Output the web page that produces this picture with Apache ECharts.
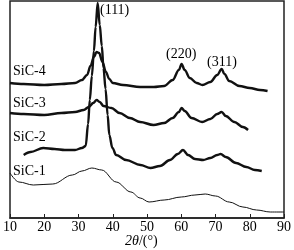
<!DOCTYPE html>
<html><head><meta charset="utf-8">
<script src="https://cdn.jsdelivr.net/npm/echarts@6/dist/echarts.min.js"></script>
<style>html,body{margin:0;padding:0;background:#fff}#c{width:294px;height:250px}</style>
</head><body><div id="c"></div>
<script>
// 2θ (degrees) and relative intensity (arbitrary units, offset stacked)
var xTicks = [10, 20, 30, 40, 50, 60, 70, 80, 90];
var seriesNames = ['SiC-1', 'SiC-2', 'SiC-3', 'SiC-4'];
var peakLabels = ['(111)', '(220)', '(311)'];

var sic4X = [10, 14, 20, 25, 29, 31, 32.5, 33.5, 34.5, 35.3, 36, 37, 38, 39, 40, 43, 48, 52, 55, 57.5, 59.3, 60.1, 61, 62.5, 64.5, 66.2, 68.5, 70.5, 71.8, 72.6, 74, 77, 80, 83, 85.2];
var sic4Y = [135, 134, 133, 134, 135, 138, 143, 152, 161, 166, 165, 156, 146, 139, 135, 133, 131, 131, 132, 138, 148, 154, 148, 140, 135, 133, 136, 143, 149, 144, 137, 132, 130, 128, 127];

var sic3X = [10, 14, 20, 25, 29, 31.5, 33, 34.3, 35.3, 36.2, 37.3, 39.6, 42, 45, 48, 51.9, 55, 57.5, 59.3, 60.1, 61, 63, 66.1, 68.5, 70.5, 71.8, 73, 75.5, 78, 79.5];
var sic3Y = [105, 104, 103, 105, 106, 108, 111, 115, 118, 116, 112, 110, 105, 100, 96, 93, 95, 100, 106, 110, 107, 100, 96, 99, 104, 106, 102, 96, 91, 88];

var sic2X = [14, 16, 19.7, 23, 26, 29, 31, 32.1, 32.8, 33.3, 33.9, 34.5, 35.0, 35.6, 36.2, 36.8, 37.3, 37.9, 38.5, 39.0, 39.9, 41, 43.9, 48.1, 51, 53.8, 56.7, 59, 60.5, 62, 64, 66.4, 68.5, 70.5, 71.5, 73, 76, 79, 81.5, 83.5];
var sic2Y = [63, 66, 70, 69, 68, 68, 70, 72, 94, 118, 142, 167, 191, 215, 193, 172, 150, 129, 103, 83, 70, 63, 58, 53, 50, 52, 58, 64, 68, 63, 59, 58, 60, 63, 64, 61, 55, 51, 48, 47];

var sic1X = [10, 12.6, 16.8, 22.5, 28.2, 31, 33.9, 36.8, 41, 45.3, 48, 50.6, 55, 60, 64, 67, 70, 74, 78, 82, 86, 90];
var sic1Y = [45, 36, 33, 34, 43, 47, 50, 48, 36, 26, 20, 16, 18, 21, 23, 24, 22, 16, 11, 8, 6, 6];

function pairs(xs, ys) { return xs.map(function (x, i) { return [x, ys[i]]; }); }

var chart = echarts.init(document.getElementById('c'), null, { renderer: 'canvas' });
var serif = '"Liberation Serif","Times New Roman",serif';
function line(name, xs, ys, w) {
  return {
    name: name, type: 'line', data: pairs(xs, ys), showSymbol: false,
    smooth: 0.35, smoothMonotone: 'x',
    lineStyle: { color: '#111', width: w }, animation: false
  };
}
var f = '14px ' + serif;
chart.setOption({
  animation: false,
  grid: { left: 6, right: 7, top: 1, bottom: 32, show: true, borderColor: '#222', borderWidth: 1.5, backgroundColor: 'transparent' },
  xAxis: {
    type: 'value', min: xTicks[0], max: xTicks[xTicks.length - 1], interval: 10,
    axisLine: { lineStyle: { color: '#222', width: 1.5 } },
    axisTick: { inside: true, length: 4, lineStyle: { color: '#222' } },
    axisLabel: { color: '#000', fontFamily: serif, fontSize: 14, margin: 2 },
    splitLine: { show: false }
  },
  yAxis: {
    type: 'value', min: 0, max: 217, show: false, splitLine: { show: false }
  },
  series: [
    line(seriesNames[0], sic1X, sic1Y, 1),
    line(seriesNames[1], sic2X, sic2Y, 2.4),
    line(seriesNames[2], sic3X, sic3Y, 2.4),
    line(seriesNames[3], sic4X, sic4Y, 2.4)
  ],
  graphic: [
    { type: 'text', left: 13, top: 64, style: { text: seriesNames[3], font: f, fill: '#000' } },
    { type: 'text', left: 13, top: 96, style: { text: seriesNames[2], font: f, fill: '#000' } },
    { type: 'text', left: 13, top: 130, style: { text: seriesNames[1], font: f, fill: '#000' } },
    { type: 'text', left: 13, top: 164, style: { text: seriesNames[0], font: f, fill: '#000' } },
    { type: 'text', left: 100, top: 3, style: { text: peakLabels[0], font: f, fill: '#000' } },
    { type: 'text', left: 166, top: 47, style: { text: peakLabels[1], font: f, fill: '#000' } },
    { type: 'text', left: 207, top: 55, style: { text: peakLabels[2], font: f, fill: '#000' } },
    { type: 'text', left: 125, top: 234, style: {
        text: '{i|2θ}/(°)', font: f, fill: '#000',
        rich: { i: { fontStyle: 'italic', fontFamily: serif, fontSize: 14, fill: '#000' } } } }
  ]
});
</script></body></html>
